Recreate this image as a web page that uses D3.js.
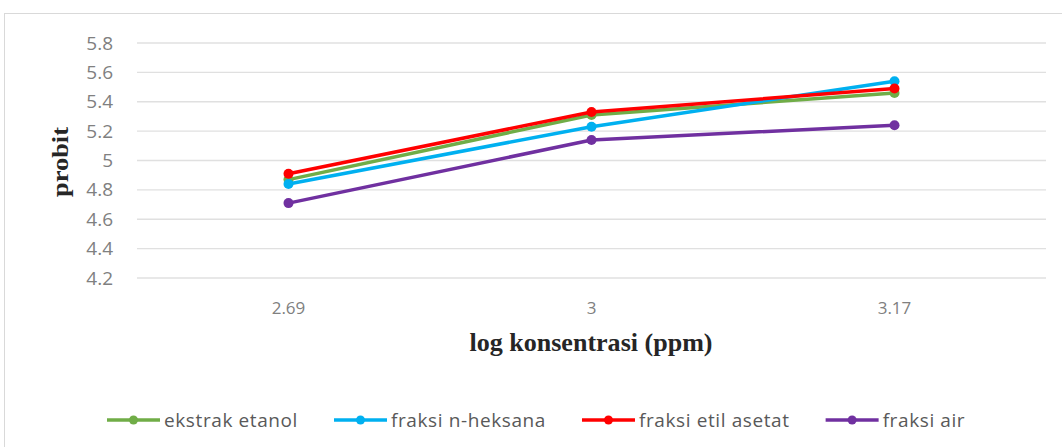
<!DOCTYPE html>
<html lang="en">
<head>
<meta charset="UTF-8">
<title>Probit vs log konsentrasi</title>
<script src="https://d3js.org/d3.v7.min.js"></script>
<style>
  body { margin: 0; background: #fff; }
</style>
</head>
<body>
<div id="chart"></div>
<script>
// data
var categories = ["2.69", "3", "3.17"];
var ekstrakEtanol = [4.87, 5.31, 5.46];
var fraksiHeksana = [4.84, 5.23, 5.54];
var fraksiEtilAsetat = [4.91, 5.33, 5.49];
var fraksiAir = [4.71, 5.14, 5.24];
var yTicks = [4.2, 4.4, 4.6, 4.8, 5, 5.2, 5.4, 5.6, 5.8];

var series = [
    { name: "ekstrak etanol", values: ekstrakEtanol, color: "#70ad47" },
    { name: "fraksi n-heksana", values: fraksiHeksana, color: "#00b0f0" },
    { name: "fraksi etil asetat", values: fraksiEtilAsetat, color: "#ff0000" },
    { name: "fraksi air", values: fraksiAir, color: "#7030a0" }
];

var width = 1062, height = 447;
var plotLeft = 137, plotRight = 1046, plotTop = 43, plotBottom = 278;

var svg = d3.select("#chart").append("svg")
    .attr("width", width)
    .attr("height", height);

// chart area frame
svg.append("rect")
    .attr("x", 4.5).attr("y", 13.5)
    .attr("width", 1070).attr("height", 450)
    .attr("fill", "#fff")
    .attr("stroke", "#d9d9d9");

var x = d3.scaleBand().domain(categories).range([plotLeft, plotRight]);
var y = d3.scaleLinear().domain([4.2, 5.8]).range([plotBottom, plotTop]);

// gridlines
svg.append("g")
    .selectAll("line")
    .data(yTicks)
    .join("line")
    .attr("x1", plotLeft).attr("x2", plotRight)
    .attr("y1", function(d) { return y(d); })
    .attr("y2", function(d) { return y(d); })
    .attr("stroke", "#e0e0e0")
    .attr("stroke-width", 1.3);

// y axis labels
var yAxis = d3.axisLeft(y).tickValues(yTicks).tickSize(0).tickPadding(0)
    .tickFormat(function(d) { return String(d); });
var gy = svg.append("g").attr("transform", "translate(113,0)").call(yAxis);
gy.select(".domain").remove();
gy.selectAll("text")
    .attr("fill", "#808080")
    .style("font-family", "'Open Sans', Calibri, sans-serif")
    .style("font-size", "19px");

// x axis labels
var xAxis = d3.axisBottom(x).tickSize(0).tickPadding(0);
var gx = svg.append("g").attr("transform", "translate(0,302)").call(xAxis);
gx.select(".domain").remove();
gx.selectAll("text")
    .attr("fill", "#808080")
    .style("font-family", "'Open Sans', Calibri, sans-serif")
    .style("font-size", "17px");

// axis titles
svg.append("text")
    .attr("x", 591).attr("y", 351)
    .attr("text-anchor", "middle")
    .attr("textLength", 243)
    .attr("lengthAdjust", "spacingAndGlyphs")
    .style("font-family", "'Liberation Serif', 'Times New Roman', serif")
    .style("font-weight", "bold")
    .style("font-size", "25px")
    .attr("fill", "#262626")
    .text("log konsentrasi (ppm)");

svg.append("text")
    .attr("transform", "translate(68,162) rotate(-90)")
    .attr("text-anchor", "middle")
    .attr("textLength", 70)
    .attr("lengthAdjust", "spacingAndGlyphs")
    .style("font-family", "'Liberation Serif', 'Times New Roman', serif")
    .style("font-weight", "bold")
    .style("font-size", "23px")
    .attr("fill", "#262626")
    .text("probit");

// lines + markers
var line = d3.line()
    .x(function(d, i) { return x(categories[i]) + x.bandwidth() / 2; })
    .y(function(d) { return y(d); });

series.forEach(function(s) {
    var g = svg.append("g");
    g.append("path")
        .attr("d", line(s.values))
        .attr("fill", "none")
        .attr("stroke", s.color)
        .attr("stroke-width", 3.5)
        .attr("stroke-linejoin", "round");
    g.selectAll("circle")
        .data(s.values)
        .join("circle")
        .attr("cx", function(d, i) { return x(categories[i]) + x.bandwidth() / 2; })
        .attr("cy", function(d) { return y(d); })
        .attr("r", 5)
        .attr("fill", s.color);
});

// legend: line swatch, then text, items laid out one after another
var legend = svg.append("g").attr("transform", "translate(0,420)");
var cursor = 107;
series.forEach(function(s) {
    var lg = legend.append("g").attr("transform", "translate(" + cursor + ",0)");
    lg.append("line")
        .attr("x1", 0).attr("x2", 53)
        .attr("stroke", s.color).attr("stroke-width", 3.5);
    lg.append("circle").attr("cx", 26.5).attr("r", 4.5).attr("fill", s.color);
    var t = lg.append("text")
        .attr("x", 57).attr("y", 0).attr("dy", "0.35em")
        .attr("fill", "#595959")
        .style("font-family", "'Open Sans', Calibri, sans-serif")
        .style("font-size", "19px")
        .style("letter-spacing", "0.6px")
        .text(s.name);
    cursor += 57 + t.node().getComputedTextLength() + 36;
});
</script>
</body>
</html>
